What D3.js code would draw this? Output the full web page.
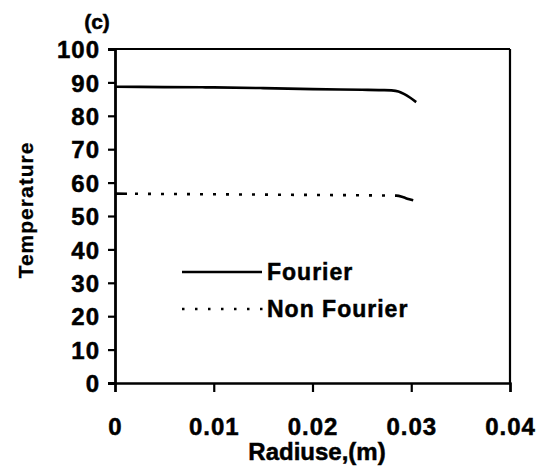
<!DOCTYPE html>
<html>
<head>
<meta charset="utf-8">
<script src="https://cdn.jsdelivr.net/npm/d3@7/dist/d3.min.js"></script>
<style>
  html, body { margin: 0; padding: 0; background: #fff; }
  svg { display: block; }
  text { font-family: "Liberation Sans", Arial, sans-serif; font-weight: bold; fill: #000; stroke: #000; stroke-width: 0.5px; }
</style>
</head>
<body>
<div id="chart"></div>
<script>
// ---- data ----
const fourierR = [0, 0.005, 0.01, 0.015, 0.02, 0.025, 0.027, 0.028, 0.0287, 0.0293, 0.0299, 0.0305];
const fourierT = [88.7, 88.6, 88.5, 88.3, 88.0, 87.8, 87.7, 87.6, 87.3, 86.5, 85.4, 84.1];
const nonFourierR = [0, 0.005, 0.01, 0.015, 0.02, 0.025, 0.0285, 0.0292, 0.0297, 0.0302];
const nonFourierT = [56.7, 56.6, 56.5, 56.4, 56.3, 56.2, 56.1, 55.6, 55.1, 54.7];
const xTicks = [0, 0.01, 0.02, 0.03, 0.04];
const xTickLabels = ["0", "0.01", "0.02", "0.03", "0.04"];
const yTicks = [0, 10, 20, 30, 40, 50, 60, 70, 80, 90, 100];
const legendLabels = ["Fourier", "Non Fourier"];

const W = 545, H = 466;
const m = { left: 115, right: 35, top: 49, bottom: 83 };

const svg = d3.select("#chart").append("svg").attr("width", W).attr("height", H);

const x = d3.scaleLinear().domain([0, 0.04]).range([m.left, W - m.right]);
const y = d3.scaleLinear().domain([0, 100]).range([H - m.bottom, m.top]);

// frame: top and right
svg.append("line").attr("x1", x(0)).attr("x2", x(0.04)).attr("y1", y(100)).attr("y2", y(100))
  .attr("stroke", "#000").attr("stroke-width", 2.2);
svg.append("line").attr("x1", x(0.04)).attr("x2", x(0.04)).attr("y1", y(100)).attr("y2", y(0))
  .attr("stroke", "#000").attr("stroke-width", 2.2);

// y axis
const yAxis = svg.append("g").attr("transform", `translate(${x(0)},0)`)
  .call(d3.axisLeft(y).tickValues(yTicks).tickSize(7).tickPadding(8).tickFormat(d3.format("d")));
yAxis.select(".domain").attr("stroke-width", 2.8);
yAxis.selectAll(".tick line").attr("stroke-width", 2.2);
yAxis.selectAll(".tick text").style("font-size", "24px").style("letter-spacing", "1px")
  .style("font-family", "'Liberation Sans', Arial, sans-serif").style("font-weight", "bold").attr("dy", "0.36em");

// x axis
const xAxis = svg.append("g").attr("transform", `translate(0,${y(0)})`)
  .call(d3.axisBottom(x).tickValues(xTicks).tickSize(9).tickPadding(26).tickFormat((d, i) => xTickLabels[i]));
xAxis.select(".domain").attr("stroke-width", 2.4);
xAxis.selectAll(".tick line").attr("stroke-width", 2.2);
xAxis.selectAll(".tick text").style("font-size", "24px").style("letter-spacing", "1px")
  .style("font-family", "'Liberation Sans', Arial, sans-serif").style("font-weight", "bold");

// lines
const lineGen = d3.line().x(d => x(d[0])).y(d => y(d[1])).curve(d3.curveMonotoneX);
const fData = fourierR.map((r, i) => [r, fourierT[i]]);
const nfData = nonFourierR.map((r, i) => [r, nonFourierT[i]]);

svg.append("path").datum(fData).attr("d", lineGen)
  .attr("fill", "none").attr("stroke", "#000").attr("stroke-width", 2.6);

// dash pattern: short leading dash, then dots, solid tail
const nfPath = svg.append("path").datum(nfData).attr("d", lineGen)
  .attr("fill", "none").attr("stroke", "#000").attr("stroke-width", 2.6);
const len = nfPath.node().getTotalLength();
const pattern = [12, 8];
let acc = 20;
while (acc < len - 22) { pattern.push(3, 10); acc += 13; }
pattern.push(len, 0);
nfPath.attr("stroke-dasharray", pattern.join(","));

// legend
const leg = svg.append("g");
const legY = [272, 309];
leg.append("line").attr("x1", 182).attr("x2", 262).attr("y1", legY[0]).attr("y2", legY[0])
  .attr("stroke", "#000").attr("stroke-width", 2.6);
leg.append("line").attr("x1", 182).attr("x2", 264).attr("y1", legY[1]).attr("y2", legY[1])
  .attr("stroke", "#000").attr("stroke-width", 2.6).attr("stroke-dasharray", "2.5,10.5");
leg.selectAll("text.lg").data(legendLabels).enter().append("text")
  .attr("class", "lg").attr("x", 267).attr("y", (d, i) => legY[i]).attr("dy", "0.36em")
  .style("font-size", "23px").style("letter-spacing", "1px").text(d => d);

// title, axis titles
svg.append("text").attr("x", 97).attr("y", 21).attr("dy", "0.36em").attr("text-anchor", "middle")
  .style("font-size", "21px").text("(c)");
svg.append("text").attr("x", 317).attr("y", 451).attr("dy", "0.36em").attr("text-anchor", "middle")
  .style("font-size", "24px").text("Radiuse,(m)");
svg.append("text").attr("transform", "translate(25,210) rotate(-90)").attr("dy", "0.36em")
  .attr("text-anchor", "middle").style("font-size", "21px").style("letter-spacing", "1px")
  .style("stroke-width", "0.3px").text("Temperature");
</script>
</body>
</html>
